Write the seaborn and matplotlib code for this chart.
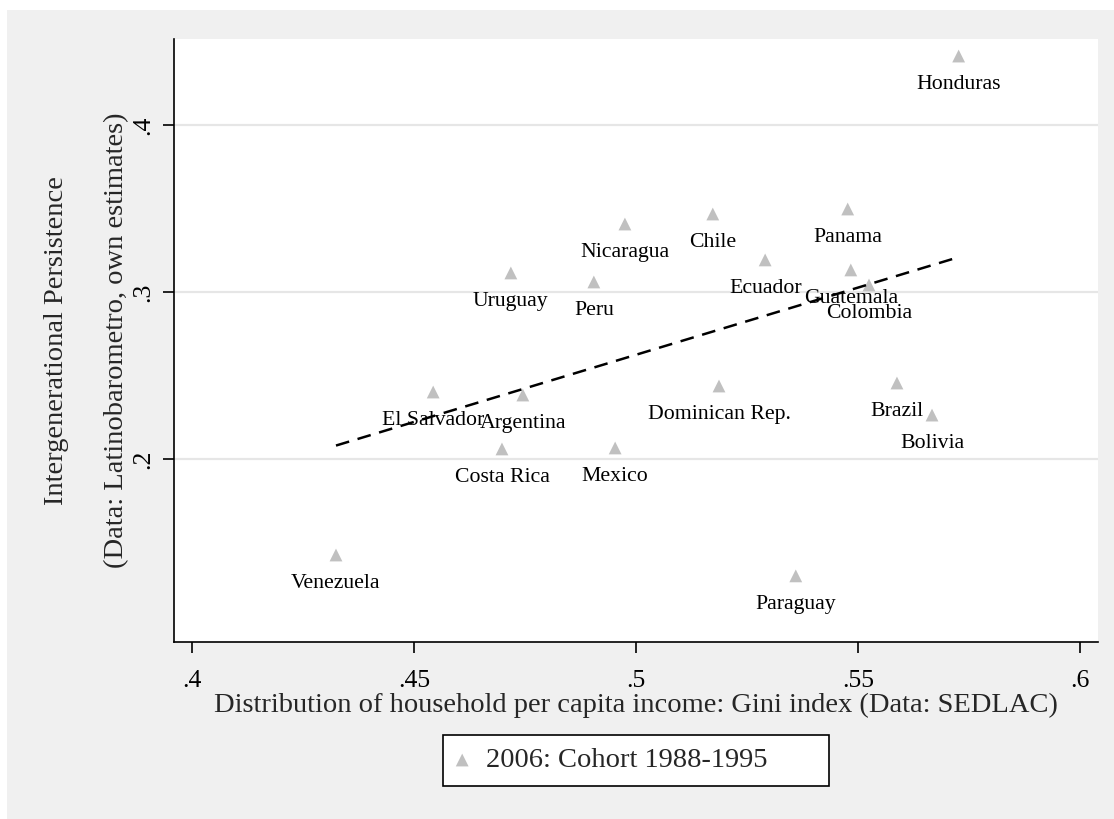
import numpy as np
import pandas as pd
import matplotlib
matplotlib.use("Agg")
import matplotlib.pyplot as plt
from matplotlib.patches import Rectangle
import seaborn as sns

# Values
countries = ["Honduras", "Nicaragua", "Chile", "Panama", "Ecuador", "Guatemala",
             "Colombia", "Uruguay", "Peru", "El Salvador", "Argentina",
             "Dominican Rep.", "Brazil", "Bolivia", "Costa Rica", "Mexico",
             "Venezuela", "Paraguay"]
gini = [0.5727, 0.4975, 0.5173, 0.5477, 0.5291, 0.5484, 0.5525, 0.4718, 0.4905,
        0.4543, 0.4745, 0.5187, 0.5588, 0.5667, 0.4698, 0.4953, 0.4324, 0.5360]
persistence = [0.4413, 0.3407, 0.3467, 0.3497, 0.3192, 0.3132, 0.3042, 0.3114,
               0.3060, 0.2401, 0.2383, 0.2437, 0.2455, 0.2263, 0.2060, 0.2066,
               0.1425, 0.1300]

x_ticks = [0.4, 0.45, 0.5, 0.55, 0.6]
x_tick_labels = [".4", ".45", ".5", ".55", ".6"]
y_ticks = [0.2, 0.3, 0.4]
y_tick_labels = [".2", ".3", ".4"]
legend_label = "2006: Cohort 1988-1995"

df = pd.DataFrame({"country": countries, "gini": gini, "persistence": persistence})

sns.set_style("ticks")
plt.rcParams["font.family"] = ["Liberation Serif", "DejaVu Serif"]

fig = plt.figure(figsize=(11.14, 8.19), dpi=100, facecolor="white")
# gray graph region (Stata style)
fig.patches.append(Rectangle((7 / 1114, 0), 1 - 7 / 1114, 1 - 10 / 819,
                             transform=fig.transFigure, facecolor="#f0f0f0",
                             edgecolor="none", zorder=-10))

ax = fig.add_axes([174 / 1114, 1 - 642 / 819, 924 / 1114, 603 / 819])
ax.set_facecolor("white")

# grid lines first
for yt in y_ticks:
    ax.axhline(yt, color="#e6e6e6", lw=1.6, zorder=0)

sns.scatterplot(data=df, x="gini", y="persistence", marker="^", s=85,
                color="#c0c0c0", edgecolor="none", ax=ax, label=legend_label,
                zorder=3)

sns.regplot(data=df, x="gini", y="persistence", scatter=False, ci=None,
            ax=ax, color="black",
            line_kws={"lw": 1.8, "linestyle": (0, (5.5, 3.5)), "zorder": 4})

for c, xv, yv in zip(countries, gini, persistence):
    ax.annotate(c, (xv, yv), xytext=(0, -23.5), textcoords="offset points",
                ha="center", va="baseline", fontsize=15.7, color="black", zorder=5)

ax.set_xlim(0.3959, 0.6041)
ax.set_ylim(0.0904, 0.4515)
ax.set_xticks(x_ticks)
ax.set_xticklabels(x_tick_labels)
ax.set_yticks(y_ticks)
ax.set_yticklabels(y_tick_labels, rotation=90, va="center")

ax.tick_params(axis="both", direction="out", length=8, width=1.2,
               labelsize=18.5, colors="black", pad=12)
ax.tick_params(axis="y", pad=6)

for side in ["top", "right"]:
    ax.spines[side].set_visible(False)
for side in ["left", "bottom"]:
    ax.spines[side].set_color("black")
    ax.spines[side].set_linewidth(1.2)

ax.set_xlabel("Distribution of household per capita income: Gini index (Data: SEDLAC)",
              fontsize=20.5, labelpad=1)
ax.set_ylabel("")
ax.text(-0.1201, 0.5, "Intergenerational Persistence", rotation=90,
        rotation_mode="anchor", transform=ax.transAxes, ha="center",
        va="baseline", fontsize=20.5)
ax.text(-0.0552, 0.5, "(Data: Latinobarometro, own estimates)", rotation=90,
        rotation_mode="anchor", transform=ax.transAxes, ha="center",
        va="baseline", fontsize=20.5)

leg = ax.legend(loc="center", bbox_to_anchor=(0.2911, -0.2405, 0.4177, 0.0879),
                mode="expand", frameon=True, fancybox=False, edgecolor="black",
                facecolor="white", framealpha=1, fontsize=20.5,
                handletextpad=0.6, borderpad=0.45, markerscale=1.0,
                handlelength=0.45, borderaxespad=0)
leg.get_frame().set_linewidth(1.2)

fig.savefig("out.png", dpi=100, facecolor=fig.get_facecolor())
